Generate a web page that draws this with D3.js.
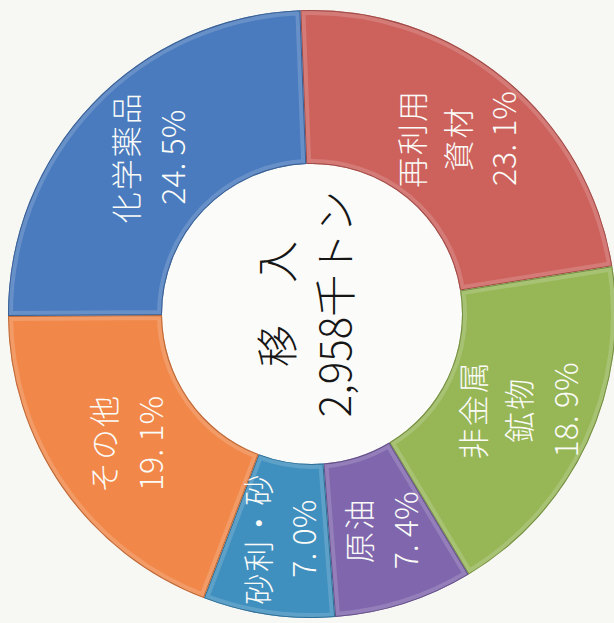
<!DOCTYPE html>
<html>
<head>
<meta charset="utf-8">
<script src="https://cdn.jsdelivr.net/npm/d3@7"></script>
<style>
	html, body { margin: 0; padding: 0; background: #f7f7f3; }
	svg { display: block; }
	text { font-family: "Noto Sans CJK JP", "Noto Sans", sans-serif; font-weight: 300; }
</style>
</head>
<body>
<svg id="chart"></svg>
<script>
// ________ data ________
const names = ['再利用資材', '非金属鉱物', '原油', '砂利・砂', 'その他', '化学薬品'];
const labelLines = [['再利用', '資材'], ['非金属', '鉱物'], ['原油'], ['砂利・砂'], ['その他'], ['化学薬品']];
const shares = [23.1, 18.9, 7.4, 7.0, 19.1, 24.5];
const shareLabels = ['23. 1%', '18. 9%', '7. 4%', '7. 0%', '19. 1%', '24. 5%'];
const colors = ['#cd625d', '#97b757', '#8067ad', '#3f8fbf', '#f1884a', '#4a7bbe'];
const centerLines = ['移\u3000入', '2,958千トン'];

// ________ layout ________
const width = 614, height = 623;
const cx = 312, cy = 314;
const outerR = 304, innerR = 150;

const svg = d3.select('#chart')
	.attr('width', width)
	.attr('height', height);

const g = svg.append('g').attr('transform', `translate(${cx},${cy})`);

const data = names.map((name, i) => ({name, value: shares[i], lines: [...labelLines[i], shareLabels[i]], color: colors[i]}));

const startAngle = -2.2 * Math.PI / 180;
const pie = d3.pie()
	.sort(null)
	.value(d => d.value)
	.startAngle(startAngle)
	.endAngle(startAngle + 2 * Math.PI);

const arc = d3.arc().innerRadius(innerR).outerRadius(outerR);
const arcs = pie(data);

// hole, a touch whiter than the page
g.append('circle')
	.attr('r', innerR)
	.attr('fill', '#fbfbf9');

const defs = svg.append('defs');
arcs.forEach((d, i) => {
	defs.append('clipPath')
		.attr('id', 'clip' + i)
		.append('path')
		.attr('d', arc(d));
});

const slices = g.selectAll('g.slice')
	.data(arcs)
	.enter()
	.append('g')
	.attr('class', 'slice');

slices.append('path')
	.attr('d', arc)
	.attr('fill', d => d.data.color);

// soft bevel: light inner rim, dark outline
slices.append('path')
	.attr('d', arc)
	.attr('fill', 'none')
	.attr('clip-path', (d, i) => `url(#clip${i})`)
	.attr('stroke', '#ffffff')
	.attr('stroke-opacity', 0.16)
	.attr('stroke-width', 10);
slices.append('path')
	.attr('d', arc)
	.attr('fill', 'none')
	.attr('clip-path', (d, i) => `url(#clip${i})`)
	.attr('stroke', d => d3.color(d.data.color).darker(0.7))
	.attr('stroke-width', 2);

// labels, rotated to read upwards
const lineH = 46;
const labels = g.selectAll('g.label')
	.data(arcs)
	.enter()
	.append('g')
	.attr('class', 'label')
	.attr('transform', d => {
		const [x, y] = arc.centroid(d);
		return `translate(${x},${y}) rotate(-90)`;
	});

labels.selectAll('text')
	.data(d => d.data.lines.map((t, i, a) => ({t, i, n: a.length})))
	.enter()
	.append('text')
	.attr('x', 0)
	.attr('y', d => (d.i - (d.n - 1) / 2) * lineH)
	.attr('text-anchor', 'middle')
	.attr('dominant-baseline', 'central')
	.attr('fill', '#fbfbf8')
	.style('font-size', d => d.t.includes('%') ? '32px' : '31px')
	.style('letter-spacing', d => d.t.includes('%') ? '0px' : '2px')
	.text(d => d.t);

// center text
const center = g.append('g')
	.attr('transform', 'translate(-9,-10) rotate(-90)');
center.selectAll('text')
	.data(centerLines)
	.enter()
	.append('text')
	.attr('x', 0)
	.attr('y', (d, i) => (i - 0.5) * 58)
	.attr('text-anchor', 'middle')
	.attr('dominant-baseline', 'central')
	.attr('fill', '#161616')
	.style('font-size', '42px')
	.text(d => d);
</script>
</body>
</html>
